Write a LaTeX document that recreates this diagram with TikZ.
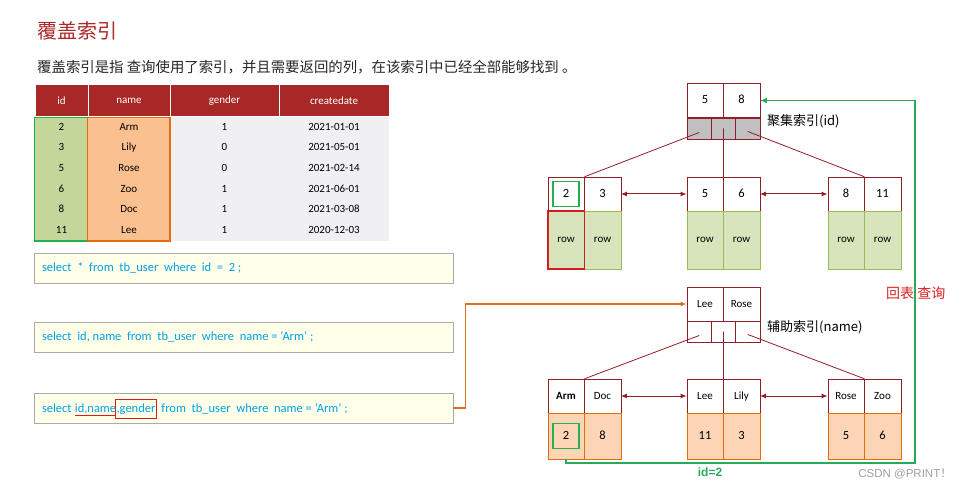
\documentclass[tikz,border=0pt]{standalone}
\usepackage{fontspec}
\setmainfont{Carlito}
\newfontfamily\cjk{Noto Sans CJK SC}
\newfontfamily\arialfont{Liberation Sans}
\usetikzlibrary{arrows.meta}
\definecolor{titlered}{RGB}{170,40,40}
\definecolor{headred}{RGB}{168,40,40}
\definecolor{cellgray}{RGB}{240,240,242}
\definecolor{idgreen}{RGB}{196,215,155}
\definecolor{boxgreen}{RGB}{34,177,76}
\definecolor{namefill}{RGB}{250,192,143}
\definecolor{nameline}{RGB}{228,108,10}
\definecolor{sqlfill}{RGB}{255,255,234}
\definecolor{sqlline}{RGB}{170,170,170}
\definecolor{sqlblue}{RGB}{0,160,230}
\definecolor{treered}{RGB}{145,30,40}
\definecolor{ptrgray}{RGB}{192,192,192}
\definecolor{leafgreen}{RGB}{216,228,188}
\definecolor{leafgreenline}{RGB}{155,187,89}
\definecolor{leaforange}{RGB}{251,213,181}
\definecolor{leaforangeline}{RGB}{228,108,10}
\definecolor{backgreen}{RGB}{40,170,90}
\definecolor{linkorange}{RGB}{224,112,32}
\definecolor{boxred}{RGB}{210,30,30}
\definecolor{returnred}{RGB}{220,30,30}
\tikzset{
  hdcell/.style={draw=white, line width=1pt, fill=headred, text=white, minimum height=32pt, inner sep=0pt, font=\fontsize{11}{13}\selectfont},
  tbcell/.style={inner sep=0pt, text height=7.5pt, text depth=2pt, font=\fontsize{11}{13}\selectfont},
  sqlbox/.style={draw=sqlline, fill=sqlfill, minimum width=419pt, minimum height=30pt, inner sep=0pt},
  sql/.style={text=sqlblue, inner sep=0pt, font=\fontsize{12.5}{15}\selectfont},
  keycell/.style={draw=treered, fill=white, minimum width=36.5pt, minimum height=34pt, inner sep=0pt, text height=8pt, text depth=2pt, font=\fontsize{12.5}{15}\selectfont},
  namecell/.style={keycell, font=\fontsize{11}{13}\selectfont},
  ptrcell/.style={draw=treered, minimum width=24.33pt, minimum height=21pt, inner sep=0pt},
  rowleaf/.style={draw=leafgreenline, fill=leafgreen, minimum width=36.5pt, minimum height=58pt, inner sep=0pt, font=\fontsize{11}{13}\selectfont},
  idleaf/.style={draw=leaforangeline, fill=leaforange, minimum width=36.5pt, minimum height=46pt, inner sep=0pt, text height=8pt, text depth=2pt, font=\fontsize{12.5}{15}\selectfont},
  treelink/.style={treered, line width=0.8pt},
  sibling/.style={treered, line width=1pt, {Latex[length=6pt,width=5pt]}-{Latex[length=6pt,width=5pt]}},
  idxlabel/.style={anchor=west, inner sep=0pt, font=\cjk\fontsize{13}{15}\selectfont},
}
\begin{document}
\begin{tikzpicture}[x=1pt,y=-1pt]
  \useasboundingbox (0,0) rectangle (966,489);
  \node[anchor=west, inner sep=0pt, text=titlered, font=\cjk\fontsize{20}{24}\selectfont] (title) at (37,31) {覆盖索引};
  \node[anchor=west, inner sep=0pt, text=black!85, font=\cjk\fontsize{14.4}{17}\selectfont] (intro) at (37,67) {覆盖索引是指 查询使用了索引，并且需要返回的列，在该索引中已经全部能够找到 。};

  \node[hdcell, minimum width=53pt] (h-id) at (61.5,101) {id};
  \node[hdcell, minimum width=82pt] (h-name) at (129,101) {name};
  \node[hdcell, minimum width=109pt] (h-gender) at (224.5,101) {gender};
  \node[hdcell, minimum width=110pt] (h-date) at (334,101) {createdate};
  \fill[cellgray] (h-gender.south west) rectangle (389,241);
  \draw[boxgreen, fill=idgreen, line width=1.5pt] (h-id.south west) rectangle (88,241);
  \draw[nameline, fill=namefill, line width=1.5pt] (h-name.south west) rectangle (170,241);
  \foreach \id/\nm/\gd/\dt [count=\r] in {2/Arm/1/2021-01-01, 3/Lily/0/2021-05-01, 5/Rose/0/2021-02-14, 6/Zoo/1/2021-06-01, 8/Doc/1/2021-03-08, 11/Lee/1/2020-12-03} {
    \node[tbcell] (id-\r) at (61.5,{106.67+20.67*\r}) {\id};
    \node[tbcell] (nm-\r) at (129,{106.67+20.67*\r}) {\nm};
    \node[tbcell] (gd-\r) at (224.5,{106.67+20.67*\r}) {\gd};
    \node[tbcell] (dt-\r) at (334,{106.67+20.67*\r}) {\dt};
  }

  \node[sqlbox] (q1) at (243.5,268) {};
  \node[sql, anchor=west] (s1) at ([xshift=8pt]q1.west) {select\ \ *\ \ from\ \ tb\_user\ \ where\ \ id\ \ =\ \ 2 ;};
  \node[sqlbox] (q2) at (243.5,337) {};
  \node[sql, anchor=west] (s2) at ([xshift=8pt]q2.west) {select\ \ id, name\ \ from\ \ tb\_user\ \ where\ \ name = ‘Arm’ ;};
  \node[sqlbox] (q3) at (243.5,408) {};
  \node[sql, anchor=west] (s3a) at ([xshift=8pt]q3.west) {select\ \ };
  \node[sql, anchor=base west] (s3b) at (s3a.base east) {id,name};
  \node[sql, anchor=base west] (s3c) at (s3b.base east) {,gender};
  \node[sql, anchor=base west] (s3d) at (s3c.base east) {\ \ from\ \ tb\_user\ \ where\ \ name = ‘Arm’ ;};
  \draw[boxred, line width=1pt] ([yshift=-3.5pt]s3b.base west) -- ([yshift=-3.5pt]s3b.base east);
  \draw[boxred, line width=1.2pt] ([xshift=-1pt,yshift=4pt]s3c.north west) rectangle ([xshift=1pt,yshift=-4pt]s3c.south east);

  \node[keycell] (c5) at (705,100.5) {5};
  \node[keycell] (c8) at (741.5,100.5) {8};
  \foreach \k in {1,2,3}
    \node[ptrcell, fill=ptrgray] (cp\k) at ({687+24.33*(\k-0.5)},128.5) {};
  \node[idxlabel] (clabel) at (767,121) {聚集索引(id)};
  \foreach \lx/\ka/\kb [count=\i] in {566/2/3, 705/5/6, 846/8/11} {
    \node[keycell] (ck\i-a) at (\lx,194) {\ka};
    \node[keycell] (ck\i-b) at ({\lx+36.5},194) {\kb};
    \node[rowleaf] (cr\i-a) at (\lx,240) {row};
    \node[rowleaf] (cr\i-b) at ({\lx+36.5},240) {row};
  }
  \draw[treelink] ([yshift=-4pt]cp1.center) -- (ck1-a.north east);
  \draw[treelink] (cp2.center) -- (ck2-a.north east);
  \draw[treelink] ([yshift=-3pt]cp3.center) -- (ck3-a.north east);
  \draw[sibling] (ck1-b.east) -- (ck2-a.west);
  \draw[sibling] (ck2-b.east) -- (ck3-a.west);
  \node[draw=boxgreen, line width=1.2pt, minimum width=26pt, minimum height=25pt, inner sep=0pt] (pick) at (ck1-a) {};
  \node[draw=boxred, line width=1.5pt, minimum width=36.5pt, minimum height=58pt, inner sep=0pt] (hit) at (cr1-a) {};

  \node[namecell] (sLee) at (705,304) {Lee};
  \node[namecell] (sRose) at (741.5,304) {Rose};
  \foreach \k in {1,2,3}
    \node[ptrcell, fill=white] (sp\k) at ({687+24.33*(\k-0.5)},331.5) {};
  \node[idxlabel] (slabel) at (767,327) {辅助索引(name)};
  \foreach \lx/\ka/\kb/\va/\vb [count=\i] in {566/\textbf{Arm}/Doc/2/8, 705/Lee/Lily/11/3, 846/Rose/Zoo/5/6} {
    \node[namecell] (sk\i-a) at (\lx,396) {\ka};
    \node[namecell] (sk\i-b) at ({\lx+36.5},396) {\kb};
    \node[idleaf] (sv\i-a) at (\lx,436) {\va};
    \node[idleaf] (sv\i-b) at ({\lx+36.5},436) {\vb};
  }
  \draw[treelink] ([yshift=-4pt]sp1.center) -- (sk1-a.north east);
  \draw[treelink] (sp2.center) -- (sk2-a.north east);
  \draw[treelink] ([yshift=-3pt]sp3.center) -- (sk3-a.north east);
  \draw[sibling] (sk1-b.east) -- (sk2-a.west);
  \draw[sibling] (sk2-b.east) -- (sk3-a.west);
  \node[draw=boxgreen, line width=1.2pt, minimum width=26pt, minimum height=25pt, inner sep=0pt] (found) at (sv1-a) {};

  \draw[linkorange, line width=1.2pt, -{Latex[length=6pt,width=5pt]}] (q3.east) -- ++(12,0) |- (sLee.west);
  \coordinate (back) at (915,463);
  \draw[backgreen, line width=1.5pt, -{Latex[length=7pt,width=6pt]}] (sv1-a.south) |- (back) |- (c8.east);
  \node[inner sep=0pt, text=backgreen, font=\arialfont\bfseries\fontsize{12}{14}\selectfont] (idtag) at (710,472) {id=2};
  \node[anchor=west, inner sep=0pt, text=returnred, font=\cjk\fontsize{14}{16}\selectfont] (backlabel) at (886,293) {回表 查询};
  \node[anchor=east, inner sep=0pt, text=black!38, font=\arialfont\fontsize{11.5}{13}\selectfont] (mark) at (952,474) {CSDN @PRINT{\cjk ！}};
\end{tikzpicture}
\end{document}
